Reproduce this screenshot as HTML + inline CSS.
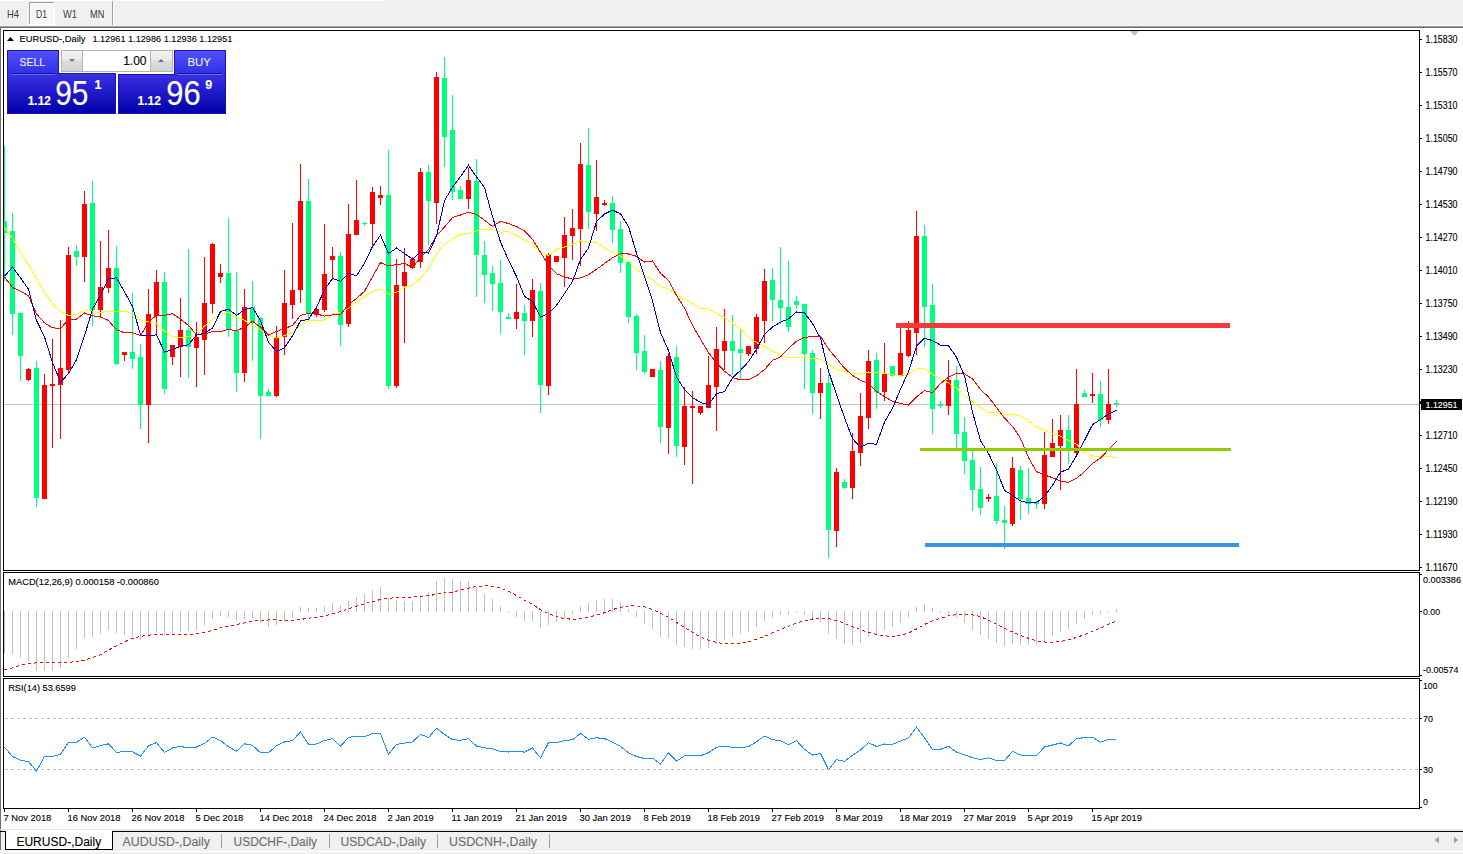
<!DOCTYPE html>
<html><head><meta charset="utf-8"><style>
html,body{margin:0;padding:0;background:#f0f0f0;overflow:hidden;}
svg{display:block;}
text{font-family:"Liberation Sans",sans-serif;}
</style></head><body>
<svg width="1463" height="854" viewBox="0 0 1463 854" font-family="Liberation Sans, sans-serif">
<rect x="0" y="0" width="1463" height="26" fill="#f0f0f0"/>
<rect x="0" y="0" width="386" height="1" fill="#ffffff"/>
<defs><pattern id="dots" width="2" height="2" patternUnits="userSpaceOnUse"><rect width="2" height="2" fill="#f0f0f0"/><rect width="1" height="1" fill="#ffffff"/><rect x="1" y="1" width="1" height="1" fill="#ffffff"/></pattern><linearGradient id="gsellTop" x1="0" y1="0" x2="0" y2="1"><stop offset="0" stop-color="#5252ff"/><stop offset="1" stop-color="#2f2fe6"/></linearGradient><linearGradient id="gprice" x1="0" y1="0" x2="0" y2="1"><stop offset="0" stop-color="#3a30e4"/><stop offset="1" stop-color="#0000a8"/></linearGradient><linearGradient id="gbtn" x1="0" y1="0" x2="0" y2="1"><stop offset="0" stop-color="#f2f2f2"/><stop offset="0.45" stop-color="#ebebeb"/><stop offset="0.5" stop-color="#dcdcdc"/><stop offset="1" stop-color="#d4d4d4"/></linearGradient></defs>
<rect x="29" y="2" width="26" height="23" fill="url(#dots)"/>
<rect x="29" y="2" width="26" height="1" fill="#a0a0a0"/>
<rect x="29" y="2" width="1" height="22" fill="#a0a0a0"/>
<rect x="54" y="2" width="1" height="23" fill="#ffffff"/>
<rect x="29" y="24" width="26" height="1" fill="#ffffff"/>
<text x="7" y="18" font-size="10.2" fill="#3c3c3c" textLength="12" lengthAdjust="spacingAndGlyphs">H4</text>
<text x="36" y="18" font-size="10.2" fill="#3c3c3c" textLength="11" lengthAdjust="spacingAndGlyphs">D1</text>
<text x="63" y="18" font-size="10.2" fill="#3c3c3c" textLength="14" lengthAdjust="spacingAndGlyphs">W1</text>
<text x="90" y="18" font-size="10.2" fill="#3c3c3c" textLength="14.3" lengthAdjust="spacingAndGlyphs">MN</text>
<rect x="112" y="1" width="1" height="25" fill="#a0a0a0"/>
<rect x="113" y="1" width="1" height="25" fill="#ffffff"/>
<rect x="0" y="25" width="1463" height="1" fill="#f7f7f7"/>
<rect x="0" y="26" width="1463" height="1" fill="#a0a0a0"/>
<rect x="0" y="27" width="1463" height="1" fill="#6e6e6e"/>
<rect x="0" y="28" width="1463" height="802" fill="#ffffff"/>
<rect x="0" y="27" width="1" height="802" fill="#6e6e6e"/>
<rect x="0" y="829" width="1463" height="1" fill="#e3e3e3"/>
<rect x="3" y="30" width="1417" height="1" fill="#000"/>
<rect x="3" y="30" width="1" height="541" fill="#000"/>
<rect x="1419" y="30" width="1" height="541" fill="#000"/>
<rect x="3" y="570" width="1417" height="1" fill="#000"/>
<rect x="3" y="572" width="1417" height="1" fill="#000"/>
<rect x="3" y="572" width="1" height="105" fill="#000"/>
<rect x="1419" y="572" width="1" height="105" fill="#000"/>
<rect x="3" y="676" width="1417" height="1" fill="#000"/>
<rect x="3" y="678" width="1417" height="1" fill="#000"/>
<rect x="3" y="678" width="1" height="131" fill="#000"/>
<rect x="1419" y="678" width="1" height="131" fill="#000"/>
<rect x="3" y="808" width="1417" height="1" fill="#000"/>
<clipPath id="cm"><rect x="4" y="31" width="1415" height="539"/></clipPath>
<clipPath id="cmacd"><rect x="4" y="573" width="1415" height="103"/></clipPath>
<clipPath id="crsi"><rect x="4" y="679" width="1415" height="129"/></clipPath>
<rect x="4" y="404" width="1415" height="1" fill="#c0c0c0"/>
<polygon points="1130,31 1139,31 1134.5,36" fill="#c0c0c0"/>
<g clip-path="url(#cm)" shape-rendering="crispEdges">
<rect x="4" y="146" width="1" height="135" fill="#00ff7f"/>
<rect x="2" y="221" width="5" height="12" fill="#00ff7f"/>
<rect x="12" y="213" width="1" height="122" fill="#00ff7f"/>
<rect x="10" y="231" width="5" height="83" fill="#00ff7f"/>
<rect x="20" y="312" width="1" height="69" fill="#00ff7f"/>
<rect x="18" y="313" width="5" height="43" fill="#00ff7f"/>
<rect x="28" y="368" width="1" height="13" fill="#ff0000"/>
<rect x="26" y="369" width="5" height="11" fill="#ff0000"/>
<rect x="36" y="361" width="1" height="146" fill="#00ff7f"/>
<rect x="34" y="368" width="5" height="130" fill="#00ff7f"/>
<rect x="44" y="374" width="1" height="125" fill="#ff0000"/>
<rect x="42" y="385" width="5" height="114" fill="#ff0000"/>
<rect x="52" y="339" width="1" height="109" fill="#ff0000"/>
<rect x="50" y="384" width="5" height="2" fill="#ff0000"/>
<rect x="60" y="320" width="1" height="119" fill="#ff0000"/>
<rect x="58" y="368" width="5" height="17" fill="#ff0000"/>
<rect x="68" y="247" width="1" height="126" fill="#ff0000"/>
<rect x="66" y="255" width="5" height="115" fill="#ff0000"/>
<rect x="76" y="245" width="1" height="21" fill="#00ff7f"/>
<rect x="74" y="251" width="5" height="6" fill="#00ff7f"/>
<rect x="84" y="191" width="1" height="91" fill="#ff0000"/>
<rect x="82" y="204" width="5" height="53" fill="#ff0000"/>
<rect x="92" y="181" width="1" height="145" fill="#00ff7f"/>
<rect x="90" y="203" width="5" height="107" fill="#00ff7f"/>
<rect x="100" y="241" width="1" height="77" fill="#ff0000"/>
<rect x="98" y="287" width="5" height="23" fill="#ff0000"/>
<rect x="108" y="230" width="1" height="63" fill="#ff0000"/>
<rect x="106" y="268" width="5" height="20" fill="#ff0000"/>
<rect x="116" y="246" width="1" height="119" fill="#00ff7f"/>
<rect x="114" y="268" width="5" height="96" fill="#00ff7f"/>
<rect x="124" y="352" width="1" height="9" fill="#ff0000"/>
<rect x="122" y="352" width="5" height="3" fill="#ff0000"/>
<rect x="132" y="293" width="1" height="76" fill="#00ff7f"/>
<rect x="130" y="352" width="5" height="7" fill="#00ff7f"/>
<rect x="140" y="344" width="1" height="85" fill="#00ff7f"/>
<rect x="138" y="357" width="5" height="48" fill="#00ff7f"/>
<rect x="148" y="289" width="1" height="154" fill="#ff0000"/>
<rect x="146" y="314" width="5" height="91" fill="#ff0000"/>
<rect x="156" y="270" width="1" height="65" fill="#ff0000"/>
<rect x="154" y="282" width="5" height="34" fill="#ff0000"/>
<rect x="164" y="272" width="1" height="122" fill="#00ff7f"/>
<rect x="162" y="282" width="5" height="107" fill="#00ff7f"/>
<rect x="172" y="345" width="1" height="20" fill="#ff0000"/>
<rect x="170" y="345" width="5" height="12" fill="#ff0000"/>
<rect x="180" y="298" width="1" height="79" fill="#ff0000"/>
<rect x="178" y="330" width="5" height="17" fill="#ff0000"/>
<rect x="188" y="249" width="1" height="129" fill="#00ff7f"/>
<rect x="186" y="330" width="5" height="17" fill="#00ff7f"/>
<rect x="196" y="322" width="1" height="65" fill="#ff0000"/>
<rect x="194" y="337" width="5" height="11" fill="#ff0000"/>
<rect x="204" y="257" width="1" height="118" fill="#ff0000"/>
<rect x="202" y="303" width="5" height="37" fill="#ff0000"/>
<rect x="212" y="243" width="1" height="70" fill="#ff0000"/>
<rect x="210" y="244" width="5" height="60" fill="#ff0000"/>
<rect x="220" y="264" width="1" height="19" fill="#ff0000"/>
<rect x="218" y="273" width="5" height="4" fill="#ff0000"/>
<rect x="228" y="218" width="1" height="119" fill="#00ff7f"/>
<rect x="226" y="273" width="5" height="57" fill="#00ff7f"/>
<rect x="236" y="272" width="1" height="120" fill="#00ff7f"/>
<rect x="234" y="330" width="5" height="43" fill="#00ff7f"/>
<rect x="244" y="289" width="1" height="93" fill="#ff0000"/>
<rect x="242" y="307" width="5" height="66" fill="#ff0000"/>
<rect x="252" y="281" width="1" height="80" fill="#00ff7f"/>
<rect x="250" y="307" width="5" height="15" fill="#00ff7f"/>
<rect x="260" y="317" width="1" height="122" fill="#00ff7f"/>
<rect x="258" y="318" width="5" height="78" fill="#00ff7f"/>
<rect x="268" y="389" width="1" height="7" fill="#00ff7f"/>
<rect x="266" y="392" width="5" height="4" fill="#00ff7f"/>
<rect x="276" y="326" width="1" height="71" fill="#ff0000"/>
<rect x="274" y="337" width="5" height="59" fill="#ff0000"/>
<rect x="284" y="270" width="1" height="85" fill="#ff0000"/>
<rect x="282" y="303" width="5" height="34" fill="#ff0000"/>
<rect x="292" y="223" width="1" height="96" fill="#ff0000"/>
<rect x="290" y="290" width="5" height="15" fill="#ff0000"/>
<rect x="300" y="164" width="1" height="139" fill="#ff0000"/>
<rect x="298" y="201" width="5" height="89" fill="#ff0000"/>
<rect x="308" y="179" width="1" height="140" fill="#00ff7f"/>
<rect x="306" y="201" width="5" height="112" fill="#00ff7f"/>
<rect x="316" y="308" width="1" height="9" fill="#ff0000"/>
<rect x="314" y="309" width="5" height="6" fill="#ff0000"/>
<rect x="324" y="224" width="1" height="88" fill="#ff0000"/>
<rect x="322" y="274" width="5" height="36" fill="#ff0000"/>
<rect x="332" y="247" width="1" height="33" fill="#ff0000"/>
<rect x="330" y="256" width="5" height="4" fill="#ff0000"/>
<rect x="340" y="252" width="1" height="94" fill="#00ff7f"/>
<rect x="338" y="256" width="5" height="69" fill="#00ff7f"/>
<rect x="348" y="204" width="1" height="123" fill="#ff0000"/>
<rect x="346" y="234" width="5" height="90" fill="#ff0000"/>
<rect x="356" y="180" width="1" height="55" fill="#ff0000"/>
<rect x="354" y="220" width="5" height="15" fill="#ff0000"/>
<rect x="364" y="222" width="1" height="4" fill="#00ff7f"/>
<rect x="362" y="223" width="5" height="1" fill="#00ff7f"/>
<rect x="372" y="187" width="1" height="59" fill="#ff0000"/>
<rect x="370" y="192" width="5" height="32" fill="#ff0000"/>
<rect x="380" y="186" width="1" height="19" fill="#ff0000"/>
<rect x="378" y="195" width="5" height="3" fill="#ff0000"/>
<rect x="388" y="150" width="1" height="239" fill="#00ff7f"/>
<rect x="386" y="195" width="5" height="191" fill="#00ff7f"/>
<rect x="396" y="259" width="1" height="129" fill="#ff0000"/>
<rect x="394" y="285" width="5" height="101" fill="#ff0000"/>
<rect x="404" y="248" width="1" height="95" fill="#ff0000"/>
<rect x="402" y="272" width="5" height="14" fill="#ff0000"/>
<rect x="412" y="257" width="1" height="12" fill="#ff0000"/>
<rect x="410" y="259" width="5" height="9" fill="#ff0000"/>
<rect x="420" y="168" width="1" height="100" fill="#ff0000"/>
<rect x="418" y="172" width="5" height="90" fill="#ff0000"/>
<rect x="428" y="165" width="1" height="80" fill="#00ff7f"/>
<rect x="426" y="172" width="5" height="29" fill="#00ff7f"/>
<rect x="436" y="72" width="1" height="152" fill="#ff0000"/>
<rect x="434" y="77" width="5" height="126" fill="#ff0000"/>
<rect x="444" y="57" width="1" height="110" fill="#00ff7f"/>
<rect x="442" y="78" width="5" height="59" fill="#00ff7f"/>
<rect x="452" y="95" width="1" height="105" fill="#00ff7f"/>
<rect x="450" y="130" width="5" height="62" fill="#00ff7f"/>
<rect x="460" y="186" width="1" height="13" fill="#00ff7f"/>
<rect x="458" y="190" width="5" height="9" fill="#00ff7f"/>
<rect x="468" y="168" width="1" height="41" fill="#ff0000"/>
<rect x="466" y="180" width="5" height="19" fill="#ff0000"/>
<rect x="476" y="159" width="1" height="138" fill="#00ff7f"/>
<rect x="474" y="181" width="5" height="74" fill="#00ff7f"/>
<rect x="484" y="241" width="1" height="62" fill="#00ff7f"/>
<rect x="482" y="255" width="5" height="20" fill="#00ff7f"/>
<rect x="492" y="266" width="1" height="45" fill="#00ff7f"/>
<rect x="490" y="273" width="5" height="11" fill="#00ff7f"/>
<rect x="500" y="260" width="1" height="74" fill="#00ff7f"/>
<rect x="498" y="283" width="5" height="29" fill="#00ff7f"/>
<rect x="508" y="313" width="1" height="6" fill="#00ff7f"/>
<rect x="506" y="317" width="5" height="2" fill="#00ff7f"/>
<rect x="516" y="284" width="1" height="45" fill="#ff0000"/>
<rect x="514" y="312" width="5" height="7" fill="#ff0000"/>
<rect x="524" y="305" width="1" height="50" fill="#00ff7f"/>
<rect x="522" y="313" width="5" height="8" fill="#00ff7f"/>
<rect x="532" y="279" width="1" height="58" fill="#ff0000"/>
<rect x="530" y="290" width="5" height="31" fill="#ff0000"/>
<rect x="540" y="283" width="1" height="130" fill="#00ff7f"/>
<rect x="538" y="291" width="5" height="94" fill="#00ff7f"/>
<rect x="548" y="253" width="1" height="142" fill="#ff0000"/>
<rect x="546" y="255" width="5" height="131" fill="#ff0000"/>
<rect x="556" y="256" width="1" height="6" fill="#ff0000"/>
<rect x="554" y="256" width="5" height="6" fill="#ff0000"/>
<rect x="564" y="217" width="1" height="70" fill="#ff0000"/>
<rect x="562" y="235" width="5" height="23" fill="#ff0000"/>
<rect x="572" y="209" width="1" height="51" fill="#ff0000"/>
<rect x="570" y="228" width="5" height="8" fill="#ff0000"/>
<rect x="580" y="143" width="1" height="123" fill="#ff0000"/>
<rect x="578" y="164" width="5" height="65" fill="#ff0000"/>
<rect x="588" y="128" width="1" height="101" fill="#00ff7f"/>
<rect x="586" y="165" width="5" height="47" fill="#00ff7f"/>
<rect x="596" y="160" width="1" height="71" fill="#ff0000"/>
<rect x="594" y="197" width="5" height="17" fill="#ff0000"/>
<rect x="604" y="200" width="1" height="6" fill="#ff0000"/>
<rect x="602" y="203" width="5" height="2" fill="#ff0000"/>
<rect x="612" y="196" width="1" height="47" fill="#00ff7f"/>
<rect x="610" y="203" width="5" height="27" fill="#00ff7f"/>
<rect x="620" y="221" width="1" height="52" fill="#00ff7f"/>
<rect x="618" y="229" width="5" height="34" fill="#00ff7f"/>
<rect x="628" y="261" width="1" height="62" fill="#00ff7f"/>
<rect x="626" y="262" width="5" height="55" fill="#00ff7f"/>
<rect x="636" y="314" width="1" height="56" fill="#00ff7f"/>
<rect x="634" y="316" width="5" height="37" fill="#00ff7f"/>
<rect x="644" y="335" width="1" height="39" fill="#00ff7f"/>
<rect x="642" y="351" width="5" height="21" fill="#00ff7f"/>
<rect x="652" y="369" width="1" height="8" fill="#ff0000"/>
<rect x="650" y="369" width="5" height="8" fill="#ff0000"/>
<rect x="660" y="361" width="1" height="82" fill="#00ff7f"/>
<rect x="658" y="370" width="5" height="57" fill="#00ff7f"/>
<rect x="668" y="353" width="1" height="101" fill="#ff0000"/>
<rect x="666" y="356" width="5" height="72" fill="#ff0000"/>
<rect x="676" y="346" width="1" height="111" fill="#00ff7f"/>
<rect x="674" y="357" width="5" height="89" fill="#00ff7f"/>
<rect x="684" y="387" width="1" height="78" fill="#ff0000"/>
<rect x="682" y="406" width="5" height="41" fill="#ff0000"/>
<rect x="692" y="391" width="1" height="93" fill="#ff0000"/>
<rect x="690" y="406" width="5" height="2" fill="#ff0000"/>
<rect x="700" y="406" width="1" height="9" fill="#ff0000"/>
<rect x="698" y="406" width="5" height="7" fill="#ff0000"/>
<rect x="708" y="356" width="1" height="52" fill="#ff0000"/>
<rect x="706" y="385" width="5" height="23" fill="#ff0000"/>
<rect x="716" y="327" width="1" height="104" fill="#ff0000"/>
<rect x="714" y="349" width="5" height="38" fill="#ff0000"/>
<rect x="724" y="309" width="1" height="61" fill="#ff0000"/>
<rect x="722" y="341" width="5" height="10" fill="#ff0000"/>
<rect x="732" y="315" width="1" height="60" fill="#00ff7f"/>
<rect x="730" y="341" width="5" height="10" fill="#00ff7f"/>
<rect x="740" y="329" width="1" height="51" fill="#00ff7f"/>
<rect x="738" y="349" width="5" height="4" fill="#00ff7f"/>
<rect x="748" y="346" width="1" height="10" fill="#ff0000"/>
<rect x="746" y="346" width="5" height="8" fill="#ff0000"/>
<rect x="756" y="314" width="1" height="40" fill="#ff0000"/>
<rect x="754" y="317" width="5" height="32" fill="#ff0000"/>
<rect x="764" y="269" width="1" height="74" fill="#ff0000"/>
<rect x="762" y="281" width="5" height="40" fill="#ff0000"/>
<rect x="772" y="268" width="1" height="53" fill="#00ff7f"/>
<rect x="770" y="280" width="5" height="20" fill="#00ff7f"/>
<rect x="780" y="247" width="1" height="77" fill="#00ff7f"/>
<rect x="778" y="300" width="5" height="8" fill="#00ff7f"/>
<rect x="788" y="261" width="1" height="71" fill="#00ff7f"/>
<rect x="786" y="307" width="5" height="20" fill="#00ff7f"/>
<rect x="796" y="296" width="1" height="13" fill="#00ff7f"/>
<rect x="794" y="301" width="5" height="4" fill="#00ff7f"/>
<rect x="804" y="304" width="1" height="85" fill="#00ff7f"/>
<rect x="802" y="304" width="5" height="50" fill="#00ff7f"/>
<rect x="812" y="350" width="1" height="64" fill="#00ff7f"/>
<rect x="810" y="353" width="5" height="40" fill="#00ff7f"/>
<rect x="820" y="368" width="1" height="51" fill="#ff0000"/>
<rect x="818" y="383" width="5" height="10" fill="#ff0000"/>
<rect x="828" y="375" width="1" height="183" fill="#00ff7f"/>
<rect x="826" y="383" width="5" height="147" fill="#00ff7f"/>
<rect x="836" y="468" width="1" height="79" fill="#ff0000"/>
<rect x="834" y="472" width="5" height="59" fill="#ff0000"/>
<rect x="844" y="479" width="1" height="10" fill="#00ff7f"/>
<rect x="842" y="482" width="5" height="6" fill="#00ff7f"/>
<rect x="852" y="433" width="1" height="66" fill="#ff0000"/>
<rect x="850" y="451" width="5" height="37" fill="#ff0000"/>
<rect x="860" y="393" width="1" height="73" fill="#ff0000"/>
<rect x="858" y="416" width="5" height="37" fill="#ff0000"/>
<rect x="868" y="350" width="1" height="79" fill="#ff0000"/>
<rect x="866" y="361" width="5" height="57" fill="#ff0000"/>
<rect x="876" y="353" width="1" height="56" fill="#00ff7f"/>
<rect x="874" y="360" width="5" height="32" fill="#00ff7f"/>
<rect x="884" y="343" width="1" height="58" fill="#ff0000"/>
<rect x="882" y="373" width="5" height="19" fill="#ff0000"/>
<rect x="892" y="366" width="1" height="10" fill="#00ff7f"/>
<rect x="890" y="366" width="5" height="10" fill="#00ff7f"/>
<rect x="900" y="327" width="1" height="49" fill="#ff0000"/>
<rect x="898" y="353" width="5" height="23" fill="#ff0000"/>
<rect x="908" y="321" width="1" height="36" fill="#ff0000"/>
<rect x="906" y="330" width="5" height="26" fill="#ff0000"/>
<rect x="916" y="211" width="1" height="144" fill="#ff0000"/>
<rect x="914" y="236" width="5" height="97" fill="#ff0000"/>
<rect x="924" y="225" width="1" height="122" fill="#00ff7f"/>
<rect x="922" y="236" width="5" height="71" fill="#00ff7f"/>
<rect x="932" y="284" width="1" height="150" fill="#00ff7f"/>
<rect x="930" y="305" width="5" height="104" fill="#00ff7f"/>
<rect x="940" y="401" width="1" height="7" fill="#00ff7f"/>
<rect x="938" y="404" width="5" height="2" fill="#00ff7f"/>
<rect x="948" y="360" width="1" height="55" fill="#ff0000"/>
<rect x="946" y="380" width="5" height="26" fill="#ff0000"/>
<rect x="956" y="366" width="1" height="82" fill="#00ff7f"/>
<rect x="954" y="380" width="5" height="54" fill="#00ff7f"/>
<rect x="964" y="417" width="1" height="57" fill="#00ff7f"/>
<rect x="962" y="432" width="5" height="29" fill="#00ff7f"/>
<rect x="972" y="451" width="1" height="60" fill="#00ff7f"/>
<rect x="970" y="460" width="5" height="30" fill="#00ff7f"/>
<rect x="980" y="467" width="1" height="48" fill="#00ff7f"/>
<rect x="978" y="489" width="5" height="19" fill="#00ff7f"/>
<rect x="988" y="494" width="1" height="8" fill="#ff0000"/>
<rect x="986" y="497" width="5" height="2" fill="#ff0000"/>
<rect x="996" y="463" width="1" height="61" fill="#00ff7f"/>
<rect x="994" y="496" width="5" height="25" fill="#00ff7f"/>
<rect x="1004" y="506" width="1" height="43" fill="#00ff7f"/>
<rect x="1002" y="520" width="5" height="3" fill="#00ff7f"/>
<rect x="1012" y="457" width="1" height="69" fill="#ff0000"/>
<rect x="1010" y="468" width="5" height="56" fill="#ff0000"/>
<rect x="1020" y="466" width="1" height="54" fill="#00ff7f"/>
<rect x="1018" y="470" width="5" height="29" fill="#00ff7f"/>
<rect x="1028" y="468" width="1" height="46" fill="#00ff7f"/>
<rect x="1026" y="498" width="5" height="6" fill="#00ff7f"/>
<rect x="1036" y="501" width="1" height="8" fill="#00ff7f"/>
<rect x="1034" y="502" width="5" height="2" fill="#00ff7f"/>
<rect x="1044" y="432" width="1" height="77" fill="#ff0000"/>
<rect x="1042" y="455" width="5" height="49" fill="#ff0000"/>
<rect x="1052" y="419" width="1" height="38" fill="#ff0000"/>
<rect x="1050" y="443" width="5" height="14" fill="#ff0000"/>
<rect x="1060" y="415" width="1" height="75" fill="#ff0000"/>
<rect x="1058" y="430" width="5" height="16" fill="#ff0000"/>
<rect x="1068" y="415" width="1" height="49" fill="#00ff7f"/>
<rect x="1066" y="430" width="5" height="19" fill="#00ff7f"/>
<rect x="1076" y="369" width="1" height="85" fill="#ff0000"/>
<rect x="1074" y="404" width="5" height="49" fill="#ff0000"/>
<rect x="1084" y="390" width="1" height="7" fill="#00ff7f"/>
<rect x="1082" y="393" width="5" height="4" fill="#00ff7f"/>
<rect x="1092" y="373" width="1" height="30" fill="#ff0000"/>
<rect x="1090" y="394" width="5" height="2" fill="#ff0000"/>
<rect x="1100" y="381" width="1" height="46" fill="#00ff7f"/>
<rect x="1098" y="394" width="5" height="26" fill="#00ff7f"/>
<rect x="1108" y="369" width="1" height="55" fill="#ff0000"/>
<rect x="1106" y="404" width="5" height="16" fill="#ff0000"/>
<rect x="1116" y="400" width="1" height="7" fill="#00ff7f"/>
<rect x="1114" y="403" width="5" height="2" fill="#00ff7f"/>
</g>
<g clip-path="url(#cm)" shape-rendering="crispEdges">
<polyline points="4.5,227.8 12.5,238.5 20.5,252.4 28.5,264.7 36.5,278.6 44.5,292.5 52.5,304.0 60.5,311.4 68.5,315.5 76.5,314.4 84.5,310.1 92.5,311.1 100.5,313.0 108.5,310.9 116.5,311.9 124.5,310.9 132.5,313.9 140.5,320.4 148.5,321.7 156.5,323.7 164.5,331.0 172.5,336.5 180.5,337.3 188.5,336.8 196.5,335.3 204.5,326.1 212.5,319.4 220.5,314.0 228.5,312.2 236.5,317.8 244.5,320.2 252.5,325.8 260.5,329.9 268.5,335.0 276.5,338.3 284.5,335.5 292.5,332.5 300.5,325.0 308.5,320.7 316.5,320.4 324.5,320.1 332.5,313.7 340.5,312.7 348.5,308.2 356.5,302.2 364.5,296.7 372.5,291.5 380.5,289.1 388.5,294.5 396.5,292.4 404.5,287.6 412.5,285.3 420.5,278.2 428.5,268.9 436.5,253.8 444.5,244.2 452.5,238.8 460.5,234.4 468.5,233.5 476.5,230.7 484.5,229.0 492.5,229.4 500.5,232.1 508.5,231.8 516.5,235.5 524.5,240.3 532.5,243.5 540.5,252.6 548.5,255.5 556.5,249.3 564.5,247.0 572.5,244.9 580.5,240.4 588.5,242.2 596.5,242.0 604.5,248.0 612.5,252.5 620.5,255.9 628.5,261.5 636.5,269.7 644.5,275.2 652.5,279.8 660.5,286.6 668.5,288.7 676.5,294.8 684.5,299.2 692.5,303.4 700.5,308.9 708.5,308.9 716.5,313.4 724.5,317.5 732.5,322.9 740.5,328.8 748.5,337.5 756.5,342.5 764.5,346.5 772.5,351.1 780.5,354.8 788.5,357.9 796.5,357.3 804.5,357.4 812.5,358.4 820.5,359.1 828.5,363.9 836.5,369.5 844.5,371.5 852.5,373.6 860.5,374.1 868.5,372.0 876.5,372.3 884.5,373.4 892.5,375.0 900.5,375.2 908.5,374.1 916.5,368.9 924.5,368.4 932.5,374.4 940.5,379.4 948.5,382.9 956.5,388.0 964.5,395.4 972.5,401.9 980.5,407.4 988.5,412.8 996.5,412.4 1004.5,414.8 1012.5,413.9 1020.5,416.2 1028.5,420.4 1036.5,427.1 1044.5,430.2 1052.5,433.5 1060.5,436.1 1068.5,440.6 1076.5,444.1 1084.5,451.8 1092.5,456.0 1100.5,456.5 1108.5,456.5 1116.5,457.6" fill="none" stroke="#ffff00" stroke-width="1"/>
<polyline points="4.5,277.0 12.5,287.6 20.5,291.2 28.5,295.8 36.5,313.9 44.5,322.9 52.5,327.8 60.5,328.6 68.5,319.6 76.5,319.1 84.5,313.0 92.5,315.8 100.5,316.8 108.5,320.5 116.5,329.9 124.5,332.7 132.5,332.9 140.5,335.5 148.5,322.4 156.5,315.0 164.5,315.3 172.5,313.7 180.5,319.1 188.5,325.5 196.5,335.0 204.5,334.5 212.5,331.4 220.5,331.8 228.5,329.3 236.5,330.8 244.5,327.2 252.5,321.2 260.5,327.1 268.5,335.1 276.5,331.5 284.5,328.4 292.5,325.6 300.5,315.3 308.5,313.5 316.5,313.9 324.5,316.1 332.5,314.9 340.5,314.5 348.5,304.6 356.5,298.4 364.5,291.4 372.5,276.8 380.5,262.6 388.5,265.9 396.5,264.7 404.5,263.4 412.5,267.6 420.5,257.5 428.5,249.8 436.5,235.7 444.5,227.1 452.5,217.6 460.5,215.0 468.5,212.2 476.5,214.4 484.5,220.3 492.5,226.5 500.5,221.3 508.5,223.6 516.5,226.5 524.5,230.8 532.5,239.3 540.5,252.3 548.5,265.1 556.5,273.7 564.5,276.9 572.5,279.1 580.5,277.9 588.5,274.8 596.5,269.3 604.5,263.6 612.5,257.7 620.5,253.7 628.5,254.0 636.5,256.3 644.5,262.1 652.5,261.0 660.5,273.3 668.5,280.4 676.5,295.4 684.5,308.1 692.5,325.4 700.5,339.2 708.5,352.7 716.5,363.1 724.5,371.2 732.5,377.4 740.5,380.0 748.5,379.6 756.5,375.8 764.5,369.5 772.5,360.4 780.5,356.9 788.5,348.4 796.5,341.2 804.5,337.4 812.5,336.4 820.5,336.2 828.5,349.1 836.5,358.4 844.5,368.2 852.5,375.3 860.5,380.3 868.5,383.4 876.5,391.3 884.5,396.6 892.5,401.5 900.5,403.4 908.5,405.2 916.5,396.8 924.5,390.7 932.5,392.5 940.5,383.6 948.5,377.1 956.5,373.2 964.5,373.9 972.5,379.0 980.5,389.5 988.5,397.0 996.5,407.6 1004.5,418.1 1012.5,426.3 1020.5,438.4 1028.5,457.5 1036.5,471.6 1044.5,475.0 1052.5,477.7 1060.5,481.2 1068.5,482.3 1076.5,478.3 1084.5,471.7 1092.5,463.6 1100.5,458.0 1108.5,449.7 1116.5,441.2" fill="none" stroke="#ff0000" stroke-width="1"/>
<polyline points="4.5,276.2 12.5,267.1 20.5,277.8 28.5,289.3 36.5,320.4 44.5,336.8 52.5,362.5 60.5,382.0 68.5,373.7 76.5,359.5 84.5,335.9 92.5,309.2 100.5,295.2 108.5,278.6 116.5,277.9 124.5,291.8 132.5,306.4 140.5,335.0 148.5,335.6 156.5,334.9 164.5,352.0 172.5,349.5 180.5,346.3 188.5,344.6 196.5,335.0 204.5,333.4 212.5,328.0 220.5,311.5 228.5,309.1 236.5,315.3 244.5,309.8 252.5,307.5 260.5,320.7 268.5,342.2 276.5,351.5 284.5,347.7 292.5,335.9 300.5,320.8 308.5,319.5 316.5,307.1 324.5,289.9 332.5,278.3 340.5,281.3 348.5,273.3 356.5,275.9 364.5,263.2 372.5,246.5 380.5,235.2 388.5,253.6 396.5,248.1 404.5,253.5 412.5,259.2 420.5,251.9 428.5,253.1 436.5,236.2 444.5,200.6 452.5,187.1 460.5,176.6 468.5,165.3 476.5,177.0 484.5,187.5 492.5,216.8 500.5,242.0 508.5,260.1 516.5,276.5 524.5,296.4 532.5,301.5 540.5,317.2 548.5,313.3 556.5,305.4 564.5,293.6 572.5,281.6 580.5,259.4 588.5,248.1 596.5,221.5 604.5,214.0 612.5,210.1 620.5,213.8 628.5,226.5 636.5,253.2 644.5,276.0 652.5,300.6 660.5,332.5 668.5,350.7 676.5,376.9 684.5,389.7 692.5,397.5 700.5,402.5 708.5,404.7 716.5,393.7 724.5,391.6 732.5,378.0 740.5,370.3 748.5,361.7 756.5,349.1 764.5,334.3 772.5,327.1 780.5,322.2 788.5,318.8 796.5,312.0 804.5,313.0 812.5,323.6 820.5,338.2 828.5,371.1 836.5,394.7 844.5,417.6 852.5,438.6 860.5,447.5 868.5,443.2 876.5,444.3 884.5,422.1 892.5,408.3 900.5,389.2 908.5,371.8 916.5,346.1 924.5,338.2 932.5,340.6 940.5,345.1 948.5,345.8 956.5,357.2 964.5,375.9 972.5,412.0 980.5,440.7 988.5,453.5 996.5,470.0 1004.5,490.3 1012.5,495.4 1020.5,500.9 1028.5,503.0 1036.5,502.5 1044.5,496.4 1052.5,485.3 1060.5,472.1 1068.5,469.2 1076.5,455.6 1084.5,440.4 1092.5,424.7 1100.5,419.6 1108.5,414.0 1116.5,410.4" fill="none" stroke="#0000cd" stroke-width="1"/>
</g>
<rect x="896" y="323" width="334" height="5" fill="#f73838"/>
<rect x="920" y="448" width="311" height="3" fill="#94c800"/>
<rect x="925" y="543" width="314" height="4" fill="#3893e0"/>
<g clip-path="url(#cmacd)" shape-rendering="crispEdges">
<rect x="4" y="611" width="1" height="42" fill="#c0c0c0"/>
<rect x="12" y="611" width="1" height="43" fill="#c0c0c0"/>
<rect x="20" y="611" width="1" height="47" fill="#c0c0c0"/>
<rect x="28" y="611" width="1" height="50" fill="#c0c0c0"/>
<rect x="36" y="611" width="1" height="60" fill="#c0c0c0"/>
<rect x="44" y="611" width="1" height="60" fill="#c0c0c0"/>
<rect x="52" y="611" width="1" height="60" fill="#c0c0c0"/>
<rect x="60" y="611" width="1" height="57" fill="#c0c0c0"/>
<rect x="68" y="611" width="1" height="47" fill="#c0c0c0"/>
<rect x="76" y="611" width="1" height="38" fill="#c0c0c0"/>
<rect x="84" y="611" width="1" height="27" fill="#c0c0c0"/>
<rect x="92" y="611" width="1" height="26" fill="#c0c0c0"/>
<rect x="100" y="611" width="1" height="23" fill="#c0c0c0"/>
<rect x="108" y="611" width="1" height="19" fill="#c0c0c0"/>
<rect x="116" y="611" width="1" height="22" fill="#c0c0c0"/>
<rect x="124" y="611" width="1" height="24" fill="#c0c0c0"/>
<rect x="132" y="611" width="1" height="25" fill="#c0c0c0"/>
<rect x="140" y="611" width="1" height="29" fill="#c0c0c0"/>
<rect x="148" y="611" width="1" height="26" fill="#c0c0c0"/>
<rect x="156" y="611" width="1" height="21" fill="#c0c0c0"/>
<rect x="164" y="611" width="1" height="24" fill="#c0c0c0"/>
<rect x="172" y="611" width="1" height="23" fill="#c0c0c0"/>
<rect x="180" y="611" width="1" height="21" fill="#c0c0c0"/>
<rect x="188" y="611" width="1" height="20" fill="#c0c0c0"/>
<rect x="196" y="611" width="1" height="19" fill="#c0c0c0"/>
<rect x="204" y="611" width="1" height="15" fill="#c0c0c0"/>
<rect x="212" y="611" width="1" height="8" fill="#c0c0c0"/>
<rect x="220" y="611" width="1" height="5" fill="#c0c0c0"/>
<rect x="228" y="611" width="1" height="6" fill="#c0c0c0"/>
<rect x="236" y="611" width="1" height="9" fill="#c0c0c0"/>
<rect x="244" y="611" width="1" height="8" fill="#c0c0c0"/>
<rect x="252" y="611" width="1" height="7" fill="#c0c0c0"/>
<rect x="260" y="611" width="1" height="12" fill="#c0c0c0"/>
<rect x="268" y="611" width="1" height="16" fill="#c0c0c0"/>
<rect x="276" y="611" width="1" height="14" fill="#c0c0c0"/>
<rect x="284" y="611" width="1" height="11" fill="#c0c0c0"/>
<rect x="292" y="611" width="1" height="7" fill="#c0c0c0"/>
<rect x="300" y="607" width="1" height="5" fill="#c0c0c0"/>
<rect x="308" y="608" width="1" height="4" fill="#c0c0c0"/>
<rect x="316" y="608" width="1" height="4" fill="#c0c0c0"/>
<rect x="324" y="606" width="1" height="6" fill="#c0c0c0"/>
<rect x="332" y="603" width="1" height="9" fill="#c0c0c0"/>
<rect x="340" y="605" width="1" height="7" fill="#c0c0c0"/>
<rect x="348" y="601" width="1" height="11" fill="#c0c0c0"/>
<rect x="356" y="597" width="1" height="15" fill="#c0c0c0"/>
<rect x="364" y="594" width="1" height="18" fill="#c0c0c0"/>
<rect x="372" y="590" width="1" height="22" fill="#c0c0c0"/>
<rect x="380" y="587" width="1" height="25" fill="#c0c0c0"/>
<rect x="388" y="598" width="1" height="14" fill="#c0c0c0"/>
<rect x="396" y="600" width="1" height="12" fill="#c0c0c0"/>
<rect x="404" y="601" width="1" height="11" fill="#c0c0c0"/>
<rect x="412" y="601" width="1" height="11" fill="#c0c0c0"/>
<rect x="420" y="595" width="1" height="17" fill="#c0c0c0"/>
<rect x="428" y="592" width="1" height="20" fill="#c0c0c0"/>
<rect x="436" y="581" width="1" height="31" fill="#c0c0c0"/>
<rect x="444" y="578" width="1" height="34" fill="#c0c0c0"/>
<rect x="452" y="579" width="1" height="33" fill="#c0c0c0"/>
<rect x="460" y="581" width="1" height="31" fill="#c0c0c0"/>
<rect x="468" y="581" width="1" height="31" fill="#c0c0c0"/>
<rect x="476" y="587" width="1" height="25" fill="#c0c0c0"/>
<rect x="484" y="594" width="1" height="18" fill="#c0c0c0"/>
<rect x="492" y="599" width="1" height="13" fill="#c0c0c0"/>
<rect x="500" y="606" width="1" height="6" fill="#c0c0c0"/>
<rect x="508" y="611" width="1" height="2" fill="#c0c0c0"/>
<rect x="516" y="611" width="1" height="6" fill="#c0c0c0"/>
<rect x="524" y="611" width="1" height="10" fill="#c0c0c0"/>
<rect x="532" y="611" width="1" height="10" fill="#c0c0c0"/>
<rect x="540" y="611" width="1" height="17" fill="#c0c0c0"/>
<rect x="548" y="611" width="1" height="14" fill="#c0c0c0"/>
<rect x="556" y="611" width="1" height="11" fill="#c0c0c0"/>
<rect x="564" y="611" width="1" height="7" fill="#c0c0c0"/>
<rect x="572" y="611" width="1" height="3" fill="#c0c0c0"/>
<rect x="580" y="606" width="1" height="6" fill="#c0c0c0"/>
<rect x="588" y="603" width="1" height="9" fill="#c0c0c0"/>
<rect x="596" y="600" width="1" height="12" fill="#c0c0c0"/>
<rect x="604" y="599" width="1" height="13" fill="#c0c0c0"/>
<rect x="612" y="599" width="1" height="13" fill="#c0c0c0"/>
<rect x="620" y="602" width="1" height="10" fill="#c0c0c0"/>
<rect x="628" y="609" width="1" height="3" fill="#c0c0c0"/>
<rect x="636" y="611" width="1" height="6" fill="#c0c0c0"/>
<rect x="644" y="611" width="1" height="13" fill="#c0c0c0"/>
<rect x="652" y="611" width="1" height="18" fill="#c0c0c0"/>
<rect x="660" y="611" width="1" height="26" fill="#c0c0c0"/>
<rect x="668" y="611" width="1" height="27" fill="#c0c0c0"/>
<rect x="676" y="611" width="1" height="34" fill="#c0c0c0"/>
<rect x="684" y="611" width="1" height="36" fill="#c0c0c0"/>
<rect x="692" y="611" width="1" height="38" fill="#c0c0c0"/>
<rect x="700" y="611" width="1" height="38" fill="#c0c0c0"/>
<rect x="708" y="611" width="1" height="37" fill="#c0c0c0"/>
<rect x="716" y="611" width="1" height="33" fill="#c0c0c0"/>
<rect x="724" y="611" width="1" height="29" fill="#c0c0c0"/>
<rect x="732" y="611" width="1" height="26" fill="#c0c0c0"/>
<rect x="740" y="611" width="1" height="23" fill="#c0c0c0"/>
<rect x="748" y="611" width="1" height="21" fill="#c0c0c0"/>
<rect x="756" y="611" width="1" height="16" fill="#c0c0c0"/>
<rect x="764" y="611" width="1" height="10" fill="#c0c0c0"/>
<rect x="772" y="611" width="1" height="7" fill="#c0c0c0"/>
<rect x="780" y="611" width="1" height="4" fill="#c0c0c0"/>
<rect x="788" y="611" width="1" height="4" fill="#c0c0c0"/>
<rect x="796" y="611" width="1" height="2" fill="#c0c0c0"/>
<rect x="804" y="611" width="1" height="4" fill="#c0c0c0"/>
<rect x="812" y="611" width="1" height="8" fill="#c0c0c0"/>
<rect x="820" y="611" width="1" height="11" fill="#c0c0c0"/>
<rect x="828" y="611" width="1" height="23" fill="#c0c0c0"/>
<rect x="836" y="611" width="1" height="28" fill="#c0c0c0"/>
<rect x="844" y="611" width="1" height="33" fill="#c0c0c0"/>
<rect x="852" y="611" width="1" height="34" fill="#c0c0c0"/>
<rect x="860" y="611" width="1" height="32" fill="#c0c0c0"/>
<rect x="868" y="611" width="1" height="26" fill="#c0c0c0"/>
<rect x="876" y="611" width="1" height="23" fill="#c0c0c0"/>
<rect x="884" y="611" width="1" height="19" fill="#c0c0c0"/>
<rect x="892" y="611" width="1" height="16" fill="#c0c0c0"/>
<rect x="900" y="611" width="1" height="12" fill="#c0c0c0"/>
<rect x="908" y="611" width="1" height="7" fill="#c0c0c0"/>
<rect x="916" y="607" width="1" height="5" fill="#c0c0c0"/>
<rect x="924" y="604" width="1" height="8" fill="#c0c0c0"/>
<rect x="932" y="608" width="1" height="4" fill="#c0c0c0"/>
<rect x="940" y="611" width="1" height="2" fill="#c0c0c0"/>
<rect x="948" y="611" width="1" height="3" fill="#c0c0c0"/>
<rect x="956" y="611" width="1" height="7" fill="#c0c0c0"/>
<rect x="964" y="611" width="1" height="12" fill="#c0c0c0"/>
<rect x="972" y="611" width="1" height="19" fill="#c0c0c0"/>
<rect x="980" y="611" width="1" height="24" fill="#c0c0c0"/>
<rect x="988" y="611" width="1" height="28" fill="#c0c0c0"/>
<rect x="996" y="611" width="1" height="32" fill="#c0c0c0"/>
<rect x="1004" y="611" width="1" height="35" fill="#c0c0c0"/>
<rect x="1012" y="611" width="1" height="33" fill="#c0c0c0"/>
<rect x="1020" y="611" width="1" height="34" fill="#c0c0c0"/>
<rect x="1028" y="611" width="1" height="34" fill="#c0c0c0"/>
<rect x="1036" y="611" width="1" height="34" fill="#c0c0c0"/>
<rect x="1044" y="611" width="1" height="30" fill="#c0c0c0"/>
<rect x="1052" y="611" width="1" height="25" fill="#c0c0c0"/>
<rect x="1060" y="611" width="1" height="21" fill="#c0c0c0"/>
<rect x="1068" y="611" width="1" height="18" fill="#c0c0c0"/>
<rect x="1076" y="611" width="1" height="13" fill="#c0c0c0"/>
<rect x="1084" y="611" width="1" height="8" fill="#c0c0c0"/>
<rect x="1092" y="611" width="1" height="4" fill="#c0c0c0"/>
<rect x="1100" y="611" width="1" height="3" fill="#c0c0c0"/>
<rect x="1108" y="611" width="1" height="1" fill="#c0c0c0"/>
<rect x="1116" y="609" width="1" height="3" fill="#c0c0c0"/>
<polyline points="4.5,669.9 12.5,667.9 20.5,665.2 28.5,663.8 36.5,662.8 44.5,662.8 52.5,662.8 60.5,662.8 68.5,662.2 76.5,661.7 84.5,660.0 92.5,657.6 100.5,654.7 108.5,650.0 116.5,645.8 124.5,641.9 132.5,638.3 140.5,636.4 148.5,635.1 156.5,634.4 164.5,634.2 172.5,634.3 180.5,634.5 188.5,634.3 196.5,633.8 204.5,632.7 212.5,630.3 220.5,627.9 228.5,626.2 236.5,624.6 244.5,622.9 252.5,621.3 260.5,620.4 268.5,620.0 276.5,619.9 284.5,620.2 292.5,620.4 300.5,619.5 308.5,618.2 316.5,617.1 324.5,615.9 332.5,613.7 340.5,611.5 348.5,608.9 356.5,606.3 364.5,603.7 372.5,601.8 380.5,599.4 388.5,598.3 396.5,597.7 404.5,597.5 412.5,596.9 420.5,596.2 428.5,595.7 436.5,594.3 444.5,593.0 452.5,592.1 460.5,590.2 468.5,588.1 476.5,586.6 484.5,585.8 492.5,586.3 500.5,587.9 508.5,591.3 516.5,595.5 524.5,600.1 532.5,604.5 540.5,609.6 548.5,613.6 556.5,616.6 564.5,618.5 572.5,619.3 580.5,618.6 588.5,617.2 596.5,615.1 604.5,612.7 612.5,609.6 620.5,607.2 628.5,605.9 636.5,605.8 644.5,606.9 652.5,609.5 660.5,613.1 668.5,617.3 676.5,622.3 684.5,627.5 692.5,632.5 700.5,636.9 708.5,640.3 716.5,642.5 724.5,643.6 732.5,643.5 740.5,643.1 748.5,641.6 756.5,639.4 764.5,636.4 772.5,632.9 780.5,629.3 788.5,626.1 796.5,623.1 804.5,620.7 812.5,619.0 820.5,617.9 828.5,618.6 836.5,620.5 844.5,623.4 852.5,626.7 860.5,629.7 868.5,632.4 876.5,634.5 884.5,635.8 892.5,636.4 900.5,635.3 908.5,633.0 916.5,629.0 924.5,624.5 932.5,620.8 940.5,618.1 948.5,615.9 956.5,614.5 964.5,614.1 972.5,614.8 980.5,616.7 988.5,620.1 996.5,624.4 1004.5,628.5 1012.5,632.0 1020.5,635.4 1028.5,638.4 1036.5,640.8 1044.5,642.0 1052.5,642.2 1060.5,641.4 1068.5,639.9 1076.5,637.4 1084.5,634.6 1092.5,631.4 1100.5,628.0 1108.5,624.3 1116.5,620.9" fill="none" stroke="#ff0000" stroke-width="1" stroke-dasharray="3,3"/>
</g>
<g clip-path="url(#crsi)" shape-rendering="crispEdges">
<line x1="5" y1="718.5" x2="1419" y2="718.5" stroke="#c0c0c0" stroke-dasharray="3,3"/>
<line x1="5" y1="769.5" x2="1419" y2="769.5" stroke="#c0c0c0" stroke-dasharray="3,3"/>
<polyline points="4.5,747.2 12.5,756.5 20.5,760.3 28.5,761.6 36.5,771.1 44.5,756.4 52.5,756.4 60.5,754.3 68.5,742.1 76.5,742.2 84.5,737.2 92.5,747.9 100.5,745.6 108.5,743.8 116.5,752.5 124.5,751.4 132.5,751.9 140.5,756.1 148.5,745.8 156.5,742.6 164.5,752.4 172.5,748.0 180.5,746.4 188.5,748.0 196.5,747.0 204.5,743.2 212.5,737.1 220.5,740.5 228.5,746.8 236.5,751.2 244.5,743.8 252.5,745.4 260.5,752.7 268.5,752.6 276.5,745.8 284.5,742.0 292.5,740.6 300.5,731.9 308.5,744.4 316.5,744.0 324.5,740.5 332.5,738.7 340.5,746.2 348.5,737.4 356.5,736.1 364.5,736.5 372.5,733.6 380.5,734.0 388.5,754.2 396.5,744.4 404.5,743.1 412.5,742.0 420.5,734.4 428.5,737.5 436.5,728.3 444.5,734.4 452.5,739.7 460.5,740.3 468.5,738.8 476.5,746.0 484.5,747.8 492.5,748.7 500.5,751.4 508.5,752.0 516.5,751.3 524.5,752.1 532.5,748.0 540.5,757.9 548.5,742.7 556.5,742.8 564.5,740.6 572.5,739.8 580.5,733.3 588.5,739.3 596.5,737.8 604.5,738.6 612.5,742.1 620.5,746.4 628.5,752.8 636.5,756.5 644.5,758.5 652.5,758.1 660.5,763.9 668.5,752.9 676.5,761.2 684.5,755.8 692.5,755.9 700.5,755.8 708.5,752.6 716.5,747.3 724.5,746.1 732.5,747.4 740.5,747.7 748.5,746.7 756.5,741.7 764.5,736.1 772.5,739.5 780.5,740.9 788.5,744.6 796.5,740.6 804.5,749.4 812.5,755.1 820.5,753.4 828.5,769.6 836.5,759.7 844.5,761.2 852.5,755.3 860.5,750.0 868.5,742.6 876.5,746.5 884.5,744.0 892.5,744.3 900.5,741.1 908.5,737.9 916.5,727.2 924.5,737.7 932.5,749.7 940.5,749.4 948.5,746.2 956.5,752.1 964.5,754.9 972.5,757.7 980.5,759.5 988.5,757.9 996.5,760.4 1004.5,760.6 1012.5,751.3 1020.5,755.0 1028.5,755.6 1036.5,755.6 1044.5,747.0 1052.5,745.0 1060.5,743.0 1068.5,745.9 1076.5,738.7 1084.5,737.6 1092.5,737.1 1100.5,742.3 1108.5,739.5 1116.5,739.6" fill="none" stroke="#1e90ff" stroke-width="1"/>
</g>
<rect x="1420" y="39" width="2" height="1" fill="#000"/>
<text x="1425.5" y="43" font-size="10" fill="#000" stroke="#000" stroke-width="0.12" textLength="32" lengthAdjust="spacingAndGlyphs">1.15830</text>
<rect x="1420" y="72" width="2" height="1" fill="#000"/>
<text x="1425.5" y="76" font-size="10" fill="#000" stroke="#000" stroke-width="0.12" textLength="32" lengthAdjust="spacingAndGlyphs">1.15570</text>
<rect x="1420" y="105" width="2" height="1" fill="#000"/>
<text x="1425.5" y="109" font-size="10" fill="#000" stroke="#000" stroke-width="0.12" textLength="32" lengthAdjust="spacingAndGlyphs">1.15310</text>
<rect x="1420" y="138" width="2" height="1" fill="#000"/>
<text x="1425.5" y="142" font-size="10" fill="#000" stroke="#000" stroke-width="0.12" textLength="32" lengthAdjust="spacingAndGlyphs">1.15050</text>
<rect x="1420" y="171" width="2" height="1" fill="#000"/>
<text x="1425.5" y="175" font-size="10" fill="#000" stroke="#000" stroke-width="0.12" textLength="32" lengthAdjust="spacingAndGlyphs">1.14790</text>
<rect x="1420" y="204" width="2" height="1" fill="#000"/>
<text x="1425.5" y="208" font-size="10" fill="#000" stroke="#000" stroke-width="0.12" textLength="32" lengthAdjust="spacingAndGlyphs">1.14530</text>
<rect x="1420" y="237" width="2" height="1" fill="#000"/>
<text x="1425.5" y="241" font-size="10" fill="#000" stroke="#000" stroke-width="0.12" textLength="32" lengthAdjust="spacingAndGlyphs">1.14270</text>
<rect x="1420" y="270" width="2" height="1" fill="#000"/>
<text x="1425.5" y="274" font-size="10" fill="#000" stroke="#000" stroke-width="0.12" textLength="32" lengthAdjust="spacingAndGlyphs">1.14010</text>
<rect x="1420" y="303" width="2" height="1" fill="#000"/>
<text x="1425.5" y="307" font-size="10" fill="#000" stroke="#000" stroke-width="0.12" textLength="32" lengthAdjust="spacingAndGlyphs">1.13750</text>
<rect x="1420" y="336" width="2" height="1" fill="#000"/>
<text x="1425.5" y="340" font-size="10" fill="#000" stroke="#000" stroke-width="0.12" textLength="32" lengthAdjust="spacingAndGlyphs">1.13490</text>
<rect x="1420" y="369" width="2" height="1" fill="#000"/>
<text x="1425.5" y="373" font-size="10" fill="#000" stroke="#000" stroke-width="0.12" textLength="32" lengthAdjust="spacingAndGlyphs">1.13230</text>
<rect x="1420" y="402" width="2" height="1" fill="#000"/>
<rect x="1420" y="435" width="2" height="1" fill="#000"/>
<text x="1425.5" y="439" font-size="10" fill="#000" stroke="#000" stroke-width="0.12" textLength="32" lengthAdjust="spacingAndGlyphs">1.12710</text>
<rect x="1420" y="468" width="2" height="1" fill="#000"/>
<text x="1425.5" y="472" font-size="10" fill="#000" stroke="#000" stroke-width="0.12" textLength="32" lengthAdjust="spacingAndGlyphs">1.12450</text>
<rect x="1420" y="501" width="2" height="1" fill="#000"/>
<text x="1425.5" y="505" font-size="10" fill="#000" stroke="#000" stroke-width="0.12" textLength="32" lengthAdjust="spacingAndGlyphs">1.12190</text>
<rect x="1420" y="534" width="2" height="1" fill="#000"/>
<text x="1425.5" y="538" font-size="10" fill="#000" stroke="#000" stroke-width="0.12" textLength="32" lengthAdjust="spacingAndGlyphs">1.11930</text>
<rect x="1420" y="567" width="2" height="1" fill="#000"/>
<text x="1425.5" y="571" font-size="10" fill="#000" stroke="#000" stroke-width="0.12" textLength="32" lengthAdjust="spacingAndGlyphs">1.11670</text>
<rect x="1421" y="399" width="41" height="11" fill="#000"/>
<rect x="1419" y="401" width="2" height="3" fill="#000"/>
<text x="1425.5" y="408" font-size="9.8" fill="#fff" stroke="#fff" stroke-width="0.12" textLength="32" lengthAdjust="spacingAndGlyphs">1.12951</text>
<rect x="1420" y="574" width="2" height="1" fill="#000"/>
<text x="1423" y="583" font-size="9.8" fill="#000" stroke="#000" stroke-width="0.12" textLength="38" lengthAdjust="spacingAndGlyphs">0.003386</text>
<rect x="1420" y="611" width="2" height="1" fill="#000"/>
<text x="1423" y="615" font-size="9.8" fill="#000" stroke="#000" stroke-width="0.12" textLength="17" lengthAdjust="spacingAndGlyphs">0.00</text>
<rect x="1420" y="675" width="2" height="1" fill="#000"/>
<text x="1423" y="673" font-size="9.8" fill="#000" stroke="#000" stroke-width="0.12" textLength="35.5" lengthAdjust="spacingAndGlyphs">-0.00574</text>
<rect x="1420" y="680" width="2" height="1" fill="#000"/>
<text x="1423" y="689" font-size="9.8" fill="#000" stroke="#000" stroke-width="0.12" textLength="14.5" lengthAdjust="spacingAndGlyphs">100</text>
<rect x="1420" y="718" width="2" height="1" fill="#000"/>
<text x="1423" y="722" font-size="9.8" fill="#000" stroke="#000" stroke-width="0.12" textLength="10" lengthAdjust="spacingAndGlyphs">70</text>
<rect x="1420" y="769" width="2" height="1" fill="#000"/>
<text x="1423" y="773" font-size="9.8" fill="#000" stroke="#000" stroke-width="0.12" textLength="10" lengthAdjust="spacingAndGlyphs">30</text>
<rect x="1420" y="807" width="2" height="1" fill="#000"/>
<text x="1423" y="805" font-size="9.8" fill="#000" stroke="#000" stroke-width="0.12" textLength="5" lengthAdjust="spacingAndGlyphs">0</text>
<rect x="4" y="809" width="1" height="3" fill="#000"/>
<text x="3.5" y="821" font-size="9.8" fill="#000" stroke="#000" stroke-width="0.12" textLength="47.8" lengthAdjust="spacingAndGlyphs">7 Nov 2018</text>
<rect x="68" y="809" width="1" height="3" fill="#000"/>
<text x="67.5" y="821" font-size="9.8" fill="#000" stroke="#000" stroke-width="0.12" textLength="53.0" lengthAdjust="spacingAndGlyphs">16 Nov 2018</text>
<rect x="132" y="809" width="1" height="3" fill="#000"/>
<text x="131.5" y="821" font-size="9.8" fill="#000" stroke="#000" stroke-width="0.12" textLength="53.0" lengthAdjust="spacingAndGlyphs">26 Nov 2018</text>
<rect x="196" y="809" width="1" height="3" fill="#000"/>
<text x="195.5" y="821" font-size="9.8" fill="#000" stroke="#000" stroke-width="0.12" textLength="47.8" lengthAdjust="spacingAndGlyphs">5 Dec 2018</text>
<rect x="260" y="809" width="1" height="3" fill="#000"/>
<text x="259.5" y="821" font-size="9.8" fill="#000" stroke="#000" stroke-width="0.12" textLength="53.0" lengthAdjust="spacingAndGlyphs">14 Dec 2018</text>
<rect x="324" y="809" width="1" height="3" fill="#000"/>
<text x="323.5" y="821" font-size="9.8" fill="#000" stroke="#000" stroke-width="0.12" textLength="53.0" lengthAdjust="spacingAndGlyphs">24 Dec 2018</text>
<rect x="388" y="809" width="1" height="3" fill="#000"/>
<text x="387.5" y="821" font-size="9.8" fill="#000" stroke="#000" stroke-width="0.12" textLength="46.3" lengthAdjust="spacingAndGlyphs">2 Jan 2019</text>
<rect x="452" y="809" width="1" height="3" fill="#000"/>
<text x="451.5" y="821" font-size="9.8" fill="#000" stroke="#000" stroke-width="0.12" textLength="50.8" lengthAdjust="spacingAndGlyphs">11 Jan 2019</text>
<rect x="516" y="809" width="1" height="3" fill="#000"/>
<text x="515.5" y="821" font-size="9.8" fill="#000" stroke="#000" stroke-width="0.12" textLength="51.5" lengthAdjust="spacingAndGlyphs">21 Jan 2019</text>
<rect x="580" y="809" width="1" height="3" fill="#000"/>
<text x="579.5" y="821" font-size="9.8" fill="#000" stroke="#000" stroke-width="0.12" textLength="51.5" lengthAdjust="spacingAndGlyphs">30 Jan 2019</text>
<rect x="644" y="809" width="1" height="3" fill="#000"/>
<text x="643.5" y="821" font-size="9.8" fill="#000" stroke="#000" stroke-width="0.12" textLength="47.3" lengthAdjust="spacingAndGlyphs">8 Feb 2019</text>
<rect x="708" y="809" width="1" height="3" fill="#000"/>
<text x="707.5" y="821" font-size="9.8" fill="#000" stroke="#000" stroke-width="0.12" textLength="52.5" lengthAdjust="spacingAndGlyphs">18 Feb 2019</text>
<rect x="772" y="809" width="1" height="3" fill="#000"/>
<text x="771.5" y="821" font-size="9.8" fill="#000" stroke="#000" stroke-width="0.12" textLength="52.5" lengthAdjust="spacingAndGlyphs">27 Feb 2019</text>
<rect x="836" y="809" width="1" height="3" fill="#000"/>
<text x="835.5" y="821" font-size="9.8" fill="#000" stroke="#000" stroke-width="0.12" textLength="47.3" lengthAdjust="spacingAndGlyphs">8 Mar 2019</text>
<rect x="900" y="809" width="1" height="3" fill="#000"/>
<text x="899.5" y="821" font-size="9.8" fill="#000" stroke="#000" stroke-width="0.12" textLength="52.5" lengthAdjust="spacingAndGlyphs">18 Mar 2019</text>
<rect x="964" y="809" width="1" height="3" fill="#000"/>
<text x="963.5" y="821" font-size="9.8" fill="#000" stroke="#000" stroke-width="0.12" textLength="52.5" lengthAdjust="spacingAndGlyphs">27 Mar 2019</text>
<rect x="1028" y="809" width="1" height="3" fill="#000"/>
<text x="1027.5" y="821" font-size="9.8" fill="#000" stroke="#000" stroke-width="0.12" textLength="45.2" lengthAdjust="spacingAndGlyphs">5 Apr 2019</text>
<rect x="1092" y="809" width="1" height="3" fill="#000"/>
<text x="1091.5" y="821" font-size="9.8" fill="#000" stroke="#000" stroke-width="0.12" textLength="50.4" lengthAdjust="spacingAndGlyphs">15 Apr 2019</text>
<polygon points="7,41 14,41 10.5,37" fill="#000"/>
<text x="19.5" y="42" font-size="9.7" fill="#000" stroke="#000" stroke-width="0.12" textLength="66" lengthAdjust="spacingAndGlyphs">EURUSD-,Daily</text>
<text x="92.4" y="42" font-size="9.7" fill="#000" stroke="#000" stroke-width="0.12" textLength="140" lengthAdjust="spacingAndGlyphs">1.12961 1.12986 1.12936 1.12951</text>
<text x="8.2" y="585.4" font-size="9.3" fill="#000" stroke="#000" stroke-width="0.12" textLength="150.7" lengthAdjust="spacingAndGlyphs">MACD(12,26,9) 0.000158 -0.000860</text>
<text x="8.2" y="691.4" font-size="9.3" fill="#000" stroke="#000" stroke-width="0.12" textLength="67.7" lengthAdjust="spacingAndGlyphs">RSI(14) 53.6599</text>
<rect x="7" y="50" width="52" height="24" fill="url(#gsellTop)"/>
<rect x="7" y="74" width="109" height="40" fill="url(#gprice)"/>
<rect x="11" y="73" width="44" height="1" fill="#14148c"/>
<rect x="11" y="74" width="44" height="1" fill="#6a6af4"/>
<path d="M7.5,113.5 V50.5 H58.5 V73.5 H115.5 V113.5 Z" fill="none" stroke="#1a12b4" stroke-width="1"/>
<text x="19.6" y="66" font-size="11.8" fill="#f0f0ff" stroke="#f0f0ff" stroke-width="0.12" textLength="25.4" lengthAdjust="spacingAndGlyphs">SELL</text>
<text x="27.8" y="105" font-size="12.5" fill="#fff" stroke="#fff" stroke-width="0.12" textLength="23" lengthAdjust="spacingAndGlyphs" font-weight="bold">1.12</text>
<text x="55.2" y="105" font-size="34.4" fill="#fff" stroke="#fff" stroke-width="0.12" textLength="33.2" lengthAdjust="spacingAndGlyphs">95</text>
<text x="94.6" y="89" font-size="12.5" fill="#fff" stroke="#fff" stroke-width="0.12" font-weight="bold">1</text>
<rect x="174" y="50" width="52" height="24" fill="url(#gsellTop)"/>
<rect x="118" y="74" width="108" height="40" fill="url(#gprice)"/>
<rect x="178" y="73" width="44" height="1" fill="#14148c"/>
<rect x="178" y="74" width="44" height="1" fill="#6a6af4"/>
<path d="M118.5,113.5 V74.5 H174.5 V50.5 H225.5 V113.5 Z" fill="none" stroke="#1a12b4" stroke-width="1"/>
<text x="187.5" y="65.7" font-size="11.8" fill="#f0f0ff" stroke="#f0f0ff" stroke-width="0.12" textLength="23.4" lengthAdjust="spacingAndGlyphs">BUY</text>
<text x="137.5" y="105" font-size="12.5" fill="#fff" stroke="#fff" stroke-width="0.12" textLength="23.4" lengthAdjust="spacingAndGlyphs" font-weight="bold">1.12</text>
<text x="166.2" y="105" font-size="34.4" fill="#fff" stroke="#fff" stroke-width="0.12" textLength="34.4" lengthAdjust="spacingAndGlyphs">96</text>
<text x="205.2" y="89" font-size="12.5" fill="#fff" stroke="#fff" stroke-width="0.12" font-weight="bold">9</text>
<rect x="61" y="50" width="112" height="22" fill="#b4b4b4"/>
<rect x="62" y="51" width="110" height="20" fill="#ffffff"/>
<rect x="62" y="51" width="20" height="20" fill="url(#gbtn)"/>
<rect x="82" y="51" width="1" height="20" fill="#b4b4b4"/>
<rect x="151" y="51" width="21" height="20" fill="url(#gbtn)"/>
<rect x="150" y="51" width="1" height="20" fill="#b4b4b4"/>
<polygon points="69,59 75,59 72,62" fill="#6070b0"/>
<polygon points="158,62 164,62 161,59" fill="#6070b0"/>
<text x="146.5" y="64.9" font-size="12" fill="#000" stroke="#000" stroke-width="0.12" text-anchor="end">1.00</text>
<rect x="0" y="830" width="1463" height="24" fill="#f0f0f0"/>
<rect x="0" y="830" width="1" height="20" fill="#6e6e6e"/>
<rect x="0" y="831" width="6" height="1" fill="#000"/>
<rect x="1" y="832" width="4" height="17" fill="#f0f0f0"/>
<rect x="5" y="830" width="108" height="20" fill="#ffffff"/>
<rect x="5" y="831" width="1" height="19" fill="#000"/>
<rect x="112" y="831" width="1" height="19" fill="#000"/>
<rect x="5" y="849" width="108" height="1" fill="#000"/>
<rect x="113" y="831" width="1350" height="1" fill="#000"/>
<rect x="0" y="851" width="1463" height="1" fill="#ffffff"/>
<text x="16.4" y="845.6" font-size="12" fill="#000" stroke="#000" stroke-width="0.12" textLength="84.8" lengthAdjust="spacingAndGlyphs">EURUSD-,Daily</text>
<text x="122.6" y="845.6" font-size="12" fill="#6d6d6d" stroke="#6d6d6d" stroke-width="0.12" textLength="87.4" lengthAdjust="spacingAndGlyphs">AUDUSD-,Daily</text>
<text x="233.6" y="845.6" font-size="12" fill="#6d6d6d" stroke="#6d6d6d" stroke-width="0.12" textLength="83.4" lengthAdjust="spacingAndGlyphs">USDCHF-,Daily</text>
<text x="340.5" y="845.6" font-size="12" fill="#6d6d6d" stroke="#6d6d6d" stroke-width="0.12" textLength="85.5" lengthAdjust="spacingAndGlyphs">USDCAD-,Daily</text>
<text x="449" y="845.6" font-size="12" fill="#6d6d6d" stroke="#6d6d6d" stroke-width="0.12" textLength="88" lengthAdjust="spacingAndGlyphs">USDCNH-,Daily</text>
<rect x="221" y="834" width="1" height="14" fill="#a0a0a0"/>
<rect x="329" y="834" width="1" height="14" fill="#a0a0a0"/>
<rect x="437" y="834" width="1" height="14" fill="#a0a0a0"/>
<rect x="549" y="834" width="1" height="14" fill="#a0a0a0"/>
<polygon points="1439,836.5 1439,843.5 1435,840" fill="#a0a0a0"/>
<polygon points="1454,836.5 1454,843.5 1458,840" fill="#a0a0a0"/>
</svg>
</body></html>
